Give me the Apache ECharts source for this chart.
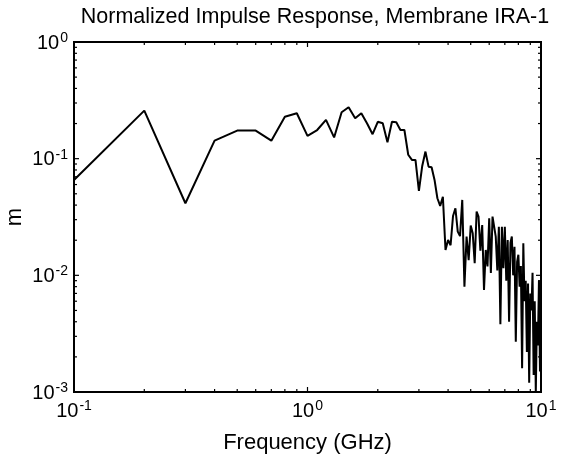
<!DOCTYPE html>
<html>
<head>
<meta charset="utf-8">
<script src="https://cdn.jsdelivr.net/npm/echarts@6/dist/echarts.min.js"></script>
<style>
html,body{margin:0;padding:0;background:#fff;}
#chart{width:569px;height:459px;}
</style>
</head>
<body>
<div id="chart"></div>
<script>
// Frequency (GHz)
var freq = [0.1,0.2,0.3,0.4,0.5,0.6,0.7,0.8,0.9,1.0,
  1.1,1.2,1.3,1.4,1.5,1.6,1.7,1.8,1.9,2.0,
  2.1,2.2,2.3,2.4,2.5,2.6,2.7,2.8,2.9,3.0,
  3.1,3.2,3.3,3.4,3.5,3.6,3.7,3.8,3.9,4.0,
  4.1,4.2,4.3,4.4,4.5,4.6,4.7,4.8,4.9,5.0,
  5.1,5.2,5.3,5.4,5.5,5.6,5.7,5.8,5.9,6.0,
  6.1,6.2,6.3,6.4,6.5,6.6,6.7,6.8,6.9,7.0,
  7.1,7.2,7.3,7.4,7.5,7.6,7.7,7.8,7.9,8.0,
  8.1,8.2,8.3,8.4,8.5,8.6,8.7,8.8,8.9,9.0,
  9.1,9.2,9.3,9.4,9.5,9.6,9.7,9.8,9.9,10.0];
// Normalized impulse response magnitude
var response = [0.0657,0.258,0.0415,0.1426,0.174,0.174,0.1426,0.229,0.245,0.157,
  0.176,0.215,0.152,0.25,0.276,0.222,0.245,0.20,0.162,0.207,
  0.201,0.138,0.207,0.205,0.176,0.176,0.108,0.0975,0.0975,0.053,
  0.0866,0.115,0.0854,0.0843,0.0657,0.0458,0.0394,0.0472,0.0165,0.0201,
  0.0181,0.0323,0.0376,0.0237,0.0217,0.0443,0.008,0.0215,0.0135,0.0267,
  0.0229,0.0127,0.0352,0.0319,0.0163,0.027,0.0075,0.0165,0.0119,0.0308,
  0.0105,0.0319,0.0329,0.0215,0.011,0.0261,0.0038,0.0261,0.0115,0.0261,
  0.009,0.0201,0.0040,0.019,0.0215,0.010,0.0176,0.0027,0.013,0.015,
  0.008,0.012,0.0016,0.0188,0.006,0.009,0.0022,0.0085,0.0012,0.0070,
  0.0050,0.0105,0.0014,0.0060,0.0010,0.0040,0.0025,0.0090,0.0015,0.0040];
var xDecades = [0.1, 1, 10];
var yDecades = [0.001, 0.01, 0.1, 1];

var FONT = 'Liberation Sans, Arial, Helvetica, sans-serif';
function minorList(decades) {
  var out = [];
  for (var i = 0; i < decades.length - 1; i++) {
    for (var k = 2; k <= 9; k++) out.push(decades[i] * k);
  }
  return out;
}
var xMinor = minorList(xDecades), yMinor = minorList(yDecades);

function expLabel(v) {
  var e = Math.round(Math.log(v) / Math.LN10);
  return '{b|10}{s|' + e + '}';
}
var richLab = {
  b: {fontSize: 20, fontFamily: FONT, color: '#000', verticalAlign: 'bottom', lineHeight: 22},
  s: {fontSize: 14, fontFamily: FONT, color: '#000', verticalAlign: 'top', lineHeight: 22, padding: [0, 0, 11, 1]}
};

var pairs = freq.map(function (f, i) { return [f, response[i]]; });

var chart = echarts.init(document.getElementById('chart'), null, {renderer: 'canvas'});
chart.setOption({
  animation: false,
  backgroundColor: '#fff',
  title: {
    text: 'Normalized Impulse Response, Membrane IRA-1',
    left: 310, top: 1, textAlign: 'center',
    textStyle: {fontFamily: FONT, fontSize: 21.5, fontWeight: 'normal', color: '#000'}
  },
  grid: {left: 74, right: 28, top: 42, bottom: 67, containLabel: false, outerBoundsMode: 'none',
    show: true, borderColor: '#000', borderWidth: 2, backgroundColor: '#fff'},
  xAxis: {
    type: 'log', logBase: 10, min: 0.1, max: 10,
    name: 'Frequency (GHz)', nameLocation: 'middle', nameGap: 40, nameMoveOverlap: false,
    nameTextStyle: {fontFamily: FONT, fontSize: 22, color: '#000'},
    axisLine: {show: false}, axisTick: {show: false}, splitLine: {show: false},
    axisLabel: {margin: 7, formatter: expLabel, rich: richLab}
  },
  yAxis: {
    type: 'log', logBase: 10, min: 0.001, max: 1,
    name: 'm', nameLocation: 'middle', nameGap: 48, nameMoveOverlap: false,
    nameTextStyle: {fontFamily: FONT, fontSize: 22, color: '#000'},
    axisLine: {show: false}, axisTick: {show: false}, splitLine: {show: false},
    axisLabel: {margin: 6, formatter: expLabel, rich: richLab}
  },
  series: [
    {
      type: 'line', data: pairs, showSymbol: false, symbol: 'none',
      lineStyle: {color: '#000', width: 2}, clip: true
    },
    {
      type: 'custom', clip: false, silent: true, z: 5,
      data: [[1, 0.01]],
      renderItem: function (params, api) {
        var children = [];
        var y0 = api.coord([1, 0.001])[1], y1 = api.coord([1, 1])[1];
        var x0 = api.coord([0.1, 0.01])[0], x1 = api.coord([10, 0.01])[0];
        function addX(v, len) {
          var x = api.coord([v, 0.01])[0];
          children.push({type: 'line', shape: {x1: x, y1: y0, x2: x, y2: y0 - len}, style: {stroke: '#000', lineWidth: 1.2}});
          children.push({type: 'line', shape: {x1: x, y1: y1, x2: x, y2: y1 + len}, style: {stroke: '#000', lineWidth: 1.2}});
        }
        function addY(v, len) {
          var y = api.coord([1, v])[1];
          children.push({type: 'line', shape: {x1: x0, y1: y, x2: x0 + len, y2: y}, style: {stroke: '#000', lineWidth: 1.2}});
          children.push({type: 'line', shape: {x1: x1, y1: y, x2: x1 - len, y2: y}, style: {stroke: '#000', lineWidth: 1.2}});
        }
        xMinor.forEach(function (v) { addX(v, 3); });
        xDecades.forEach(function (v) { addX(v, 5); });
        yMinor.forEach(function (v) { addY(v, 3); });
        yDecades.forEach(function (v) { addY(v, 5); });
        return {type: 'group', children: children};
      }
    }
  ]
});
</script>
</body>
</html>
